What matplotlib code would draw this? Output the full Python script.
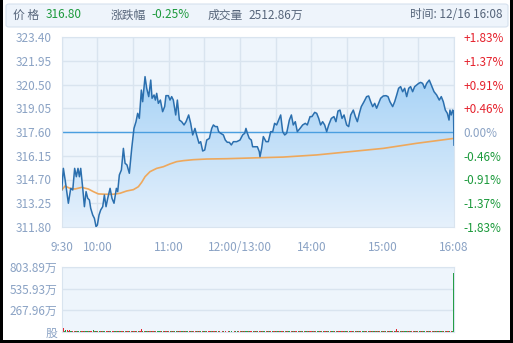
import numpy as np
import matplotlib
matplotlib.use("Agg")
import matplotlib.pyplot as plt
from matplotlib.patches import Rectangle, FancyBboxPatch

plt.rcParams['font.family'] = ['Noto Sans CJK SC', 'DejaVu Sans']

# ---- data ----
prev_close = 317.60
last_price = "316.80"
change_pct = "-0.25%"
total_vol = "2512.86万"
time_str = "时间: 12/16 16:08"

# trading minute since 9:30 (150 = 12:00/13:00, 330 = close)
price_t = [0, 1.4, 3.1, 5.6, 7.6, 9.3, 10.9, 12.3, 13.7, 14.9, 16.0, 17.7, 19.1, 20.5,
           21.9, 23.3, 24.4, 26.1, 27.5, 28.9, 30.0, 31.4, 32.8, 34.5, 35.9, 37.3, 38.7,
           40.7, 42.3, 44.0, 46.0, 47.1, 48.5, 50.2, 51.9, 53.3, 54.9, 56.9, 58.9, 60.8,
           62.5, 63.9, 65.3, 67.0, 68.1, 70.1, 71.5, 73.2, 74.9, 76.0, 77.7, 78.8, 79.9,
           81.3, 83.0, 84.9, 86.6, 87.7, 89.7, 91.1, 92.5, 93.9, 95.9, 97.3, 99.0, 100.9,
           102.9, 104.6, 106.8, 108.5, 110.2, 112.1, 113.5, 115.5, 116.9, 118.6, 120.3,
           122.0, 124.2, 126.2, 127.6, 129.2, 130.9, 132.0, 133.7, 136.0, 137.6, 139.3,
           141.0, 142.7, 144.4, 147.2, 150.0, 152.2, 153.9, 155.0, 156.2, 157.8, 159.5,
           160.6, 162.6, 164.6, 166.2, 166.8, 168.2, 169.6, 171.9, 173.8, 175.8, 177.5,
           179.1, 180.8, 182.5, 184.2, 185.9, 187.6, 189.2, 191.5, 193.2, 194.8, 196.5,
           198.2, 200.5, 202.7, 204.9, 206.6, 208.9, 210.5, 212.8, 214.5, 216.2, 217.8,
           219.5, 221.2, 222.9, 224.6, 226.8, 229.0, 230.7, 232.4, 234.1, 235.8, 237.5,
           239.7, 241.4, 243.1, 245.3, 247.0, 248.7, 250.4, 252.0, 254.3, 256.5, 258.2,
           259.9, 261.6, 263.3, 264.9, 266.6, 268.3, 270.5, 272.8, 274.5, 276.1, 278.4,
           280.1, 281.8, 283.4, 285.1, 286.8, 288.5, 290.2, 291.9, 293.5, 295.2, 296.9,
           298.6, 300.3, 301.9, 303.6, 305.3, 307.0, 309.2, 310.9, 313.2, 315.4, 317.6,
           319.3, 321.0, 322.7, 324.4, 325.8, 326.6, 327.7, 328.9, 329.6, 330.0]
price = [314.06, 315.38, 314.57, 313.25, 314.16, 314.06, 315.38, 314.87, 315.38, 314.87,
         315.38, 314.16, 313.04, 313.96, 313.55, 313.45, 312.94, 312.53, 312.33, 311.82,
         311.92, 312.53, 312.84, 313.04, 313.75, 313.04, 313.55, 314.16, 313.55, 313.25,
         314.16, 313.96, 314.98, 315.28, 316.60, 315.69, 315.59, 315.08, 316.60, 317.82,
         318.23, 318.74, 318.43, 320.16, 319.45, 320.98, 320.27, 319.76, 320.77, 319.66,
         319.86, 319.55, 319.96, 319.35, 319.55, 318.84, 319.15, 319.82, 319.82, 319.55,
         319.76, 319.55, 318.64, 319.55, 318.33, 318.23, 318.03, 318.23, 318.64, 318.13,
         317.42, 317.82, 317.42, 316.91, 317.01, 316.44, 316.50, 317.11, 317.21, 317.82,
         318.03, 317.93, 317.93, 317.62, 317.52, 317.42, 317.11, 316.97, 316.97, 316.81,
         317.01, 317.01, 317.11, 317.42, 317.52, 317.82, 317.52, 317.21, 317.11, 316.70,
         316.70, 316.70, 316.40, 316.09, 316.60, 317.32, 317.01, 317.01, 317.62, 317.62,
         318.13, 318.03, 318.33, 318.64, 317.62, 317.42, 317.52, 318.33, 318.64, 318.03,
         318.23, 317.62, 317.82, 318.03, 318.13, 318.03, 318.54, 318.54, 318.80, 318.74,
         318.43, 318.03, 318.23, 318.03, 317.62, 318.03, 318.43, 318.54, 318.23, 318.88,
         318.94, 318.43, 318.64, 318.03, 317.93, 318.64, 318.94, 318.54, 318.23, 318.74,
         319.15, 319.45, 319.76, 319.80, 319.45, 319.15, 319.35, 319.05, 319.35, 319.66,
         319.80, 319.82, 319.76, 319.45, 319.15, 319.45, 319.86, 320.27, 320.37, 320.06,
         320.27, 319.76, 320.27, 320.37, 320.06, 320.37, 320.47, 320.57, 320.63, 320.57,
         320.27, 320.57, 320.77, 320.47, 320.06, 319.86, 319.55, 319.76, 319.45, 318.94,
         318.74, 318.33, 318.94, 318.64, 318.94, 318.84, 316.80]

avg_t = [0, 2.8, 7.0, 11.2, 16.8, 22.4, 26.6, 30.8, 36.4, 43.5, 49.1, 54.7, 60.3, 64.5,
         67.3, 70.1, 74.3, 79.9, 85.5, 91.1, 96.7, 102.3, 110.7, 122.0, 138.8, 166.8,
         186.4, 214.5, 242.5, 270.5, 298.6, 315.4, 330.0]
avg_price = [314.06, 314.30, 314.16, 314.12, 314.22, 314.12, 313.96, 313.82, 313.80,
             313.80, 313.86, 314.00, 314.08, 314.26, 314.53, 314.87, 315.18, 315.38,
             315.48, 315.65, 315.79, 315.85, 315.91, 315.95, 315.97, 316.03, 316.07,
             316.20, 316.40, 316.60, 316.91, 317.07, 317.21]

# volume per minute, in 万 shares; r = up minute, g = down minute
volume = [75, 46, 14, 18, 16, 12, 25, 10, 8, 12, 9, 14, 7, 8, 10, 6, 9, 12, 8, 7, 6, 8, 10, 9, 7, 14, 18, 12, 9, 8,
          7, 6, 8, 5, 9, 7, 6, 5, 6, 8, 5, 7, 9, 6, 5, 7, 6, 8, 6, 7, 9, 11, 8, 7, 6, 9, 10, 8, 7, 6,
          8, 10, 9, 12, 11, 14, 10, 29, 12, 9, 10, 8, 9, 11, 8, 7, 9, 8, 7, 6, 8, 7, 6, 9, 8, 7, 6, 5, 7, 6,
          6, 5, 7, 6, 5, 6, 4, 5, 6, 5, 4, 6, 5, 4, 5, 6, 4, 5, 4, 3, 4, 5, 4, 3, 4, 5, 3, 4, 3, 4,
          3, 4, 3, 4, 3, 3, 4, 3, 3, 4, 3, 2, 3, 3, 2, 3, 3, 2, 3, 2, 3, 3, 2, 3, 2, 3, 3, 2, 3, 4,
          4, 3, 4, 3, 3, 4, 3, 4, 3, 3, 4, 3, 4, 5, 4, 3, 4, 5, 4, 3, 4, 5, 4, 3, 4, 3, 4, 5, 4, 3,
          4, 5, 4, 3, 4, 5, 4, 5, 4, 3, 4, 5, 6, 4, 3, 4, 5, 4, 3, 4, 4, 5, 4, 3, 4, 5, 4, 3, 4, 5,
          4, 5, 6, 5, 4, 5, 4, 3, 4, 5, 4, 5, 4, 3, 4, 5, 6, 5, 4, 3, 4, 5, 4, 3, 4, 5, 4, 5, 4, 3,
          4, 5, 4, 5, 6, 5, 4, 5, 4, 3, 4, 5, 6, 7, 6, 5, 4, 5, 4, 3, 4, 5, 4, 5, 4, 5, 6, 5, 4, 5,
          4, 5, 4, 3, 4, 5, 4, 3, 4, 5, 6, 5, 29, 6, 5, 4, 5, 6, 5, 4, 5, 4, 3, 4, 5, 4, 3, 4, 5, 4,
          5, 4, 3, 4, 5, 4, 5, 6, 5, 4, 5, 6, 5, 4, 5, 6, 5, 4, 3, 4, 5, 4, 5, 4, 3, 4, 5, 4, 6, 8,
          733]
vol_dir = ("rrggrgrggrrgrgggrrgrggrgrrgrgg"
           "rgrgrggrrgrgrrggrgrgrrgrgrrgrg"
           "rrgrgrrrgrggrgrgrrgrgggrgrgrrg"
           "rgrgrggrgrrgrgrggrgrgrrgrgrgrg"
           "grgrrgrgrgrggrgrgrrgrgrggrgrgr"
           "rgrgrggrgrrgrgrgrrgrggrgrgrgrr"
           "grgrgrrgrgrggrgrgrrgrgrgrggrgr"
           "rgrgrggrgrgrrgrgrggrgrgrrgrgrg"
           "grgrrgrgrgrgrggrgrgrrgrgrgrgrg"
           "rgrgrgrggrgrrgrgrgrggrgrgrrgrg"
           "rgrgrggrgrgrrgrgrgrggrgrgrrgrg"
           "g")

price_ticks = [311.80, 313.25, 314.70, 316.15, 317.60, 319.05, 320.50, 321.95, 323.40]
time_ticks = [0, 30, 60, 90, 120, 150, 180, 210, 240, 270, 300, 330]
time_labels = ['9:30', '10:00', '', '11:00', '', '12:00/13:00', '', '14:00', '', '15:00', '', '16:08']
vol_ticks = [0, 267.96, 535.93, 803.89]
vol_labels = ['股', '267.96万', '535.93万', '803.89万']

# ---- colours ----
bg = '#eef5fc'
grid_c = '#d9e4ef'
axis_txt = '#8aa2c4'
red = '#e5222d'
green = '#1c9a3c'
line_c = '#2b6fae'
avg_c = '#eea85c'

W, H = 513, 343
fig = plt.figure(figsize=(W / 100, H / 100), dpi=100)
fig.patch.set_facecolor('white')

# header bar
fig.patches.append(FancyBboxPatch((6 / W, 1 - 27 / H), 502 / W, 23 / H,
                                  boxstyle='round,pad=0,rounding_size=0.006',
                                  transform=fig.transFigure, facecolor='#eef4fb',
                                  edgecolor='#d6e1ee', linewidth=0.8))
ty = 1 - 15 / H
hdr = '#56657a'
fig.text(13 / W, ty, '价 格', color=hdr, fontsize=8.5, va='center')
fig.text(46 / W, ty, last_price, color=green, fontsize=8.5, va='center')
fig.text(111 / W, ty, '涨跌幅', color=hdr, fontsize=8.5, va='center')
fig.text(151 / W, ty, change_pct, color=green, fontsize=8.5, va='center')
fig.text(208 / W, ty, '成交量', color=hdr, fontsize=8.5, va='center')
fig.text(248 / W, ty, total_vol, color=hdr, fontsize=8.5, va='center')
fig.text(503 / W, ty, time_str, color=hdr, fontsize=8.5, va='center', ha='right')

# ---- price panel ----
ax = fig.add_axes([61.7 / W, 1 - 227 / H, 392.3 / W, 190 / H])
ax.set_facecolor(bg)
ax.set_xlim(0, 330)
ax.set_ylim(price_ticks[0], price_ticks[-1])
ax.set_xticks(time_ticks)
ax.set_xticklabels(time_labels)
ax.set_yticks(price_ticks)
ax.set_yticklabels(['%.2f' % p for p in price_ticks])
ax.grid(True, color=grid_c, linewidth=1)
ax.set_axisbelow(True)
ax.tick_params(length=0, colors=axis_txt, labelsize=8.5)
ax.tick_params(axis='x', pad=10)
ax.tick_params(axis='y', pad=7)
for s in ax.spines.values():
    s.set_color(grid_c)

# gradient fill under the price line
poly = ax.fill_between(price_t, price, price_ticks[0], color='none', lw=0)
grad = np.linspace(0, 1, 256).reshape(-1, 1)
cmap = matplotlib.colors.LinearSegmentedColormap.from_list('g', ['#a6d2f6', '#e6f1fc'])
im = ax.imshow(grad, cmap=cmap, aspect='auto', origin='upper',
               extent=[0, 330, price_ticks[0], 321.2], zorder=1)
im.set_clip_path(poly.get_paths()[0], transform=ax.transData)

ax.axhline(prev_close, color='#4a9fe0', linewidth=1, zorder=2)
ax.plot(avg_t, avg_price, color=avg_c, linewidth=1.2, zorder=3)
ax.plot(price_t, price, color=line_c, linewidth=1.1, zorder=4)

# right axis in percent
ax2 = ax.twinx()
ax2.set_ylim(ax.get_ylim())
ax2.set_yticks(price_ticks)
pct = [(p - prev_close) / prev_close * 100 for p in price_ticks]
ax2.set_yticklabels(['%+.2f%%' % v if abs(v) > 0.001 else '0.00%' for v in pct])
ax2.tick_params(length=0, labelsize=8.5, pad=7)
for lab, v in zip(ax2.get_yticklabels(), pct):
    lab.set_color(red if v > 0.001 else (green if v < -0.001 else axis_txt))
for s in ax2.spines.values():
    s.set_visible(False)

# ---- volume panel ----
axv = fig.add_axes([61.7 / W, 1 - 331.7 / H, 392.3 / W, 64.4 / H])
axv.set_facecolor(bg)
vt = np.arange(len(volume))
cols = [red if c == 'r' else green for c in vol_dir]
axv.bar(vt, volume, width=0.85, color=cols, linewidth=0)
axv.set_xlim(-0.5, 330.5)
axv.set_ylim(0, vol_ticks[-1])
axv.set_xticks([])
axv.set_yticks(vol_ticks)
axv.set_yticklabels(vol_labels)
axv.tick_params(length=0, colors=axis_txt, labelsize=8.5, pad=3)
axv.grid(True, axis='y', color=grid_c, linewidth=1)
axv.set_axisbelow(True)
for s in axv.spines.values():
    s.set_color(grid_c)

# dark frame
for x0, y0, w, h in [(0, 0, 3, H), (W - 3, 0, 3, H), (0, 0, W, 3)]:
    fig.patches.append(Rectangle((x0 / W, y0 / H), w / W, h / H, transform=fig.transFigure,
                                 facecolor='black', edgecolor='none'))

fig.savefig('out.png', dpi=100)
